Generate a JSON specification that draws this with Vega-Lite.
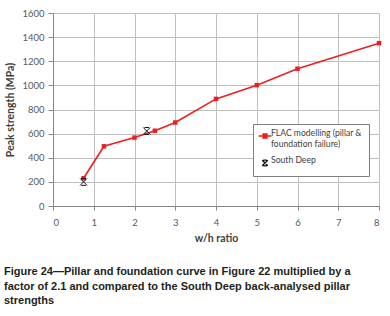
{
  "$schema": "https://vega.github.io/schema/vega-lite/v6.json",
  "width": 326,
  "height": 193,
  "autosize": {"type": "none"},
  "padding": {"left": 53, "top": 13, "right": 11, "bottom": 110},
  "background": "white",
  "config": {
    "view": {"stroke": null},
    "font": "Lato",
    "axis": {
      "gridColor": "#bfbfbf",
      "domainColor": "#868686",
      "tickColor": "#868686",
      "labelColor": "#595959",
      "labelFontSize": 9.5,
      "titleFontSize": 10.5,
      "titleFontWeight": "bold",
      "titleColor": "#404040"
    },
    "legend": {
      "orient": "none",
      "legendX": 200,
      "legendY": 111,
      "strokeColor": "#7f7f7f",
      "fillColor": "white",
      "padding": 7,
      "labelFont": "Lato",
      "labelFontSize": 8.6,
      "labelColor": "#404040",
      "labelBaseline": "alphabetic",
      "symbolSize": 64,
      "symbolStrokeWidth": 1.3,
      "rowPadding": 7,
      "labelOffset": 1
    }
  },
  "title": {
    "text": [
      "Figure 24\u2014Pillar and foundation curve in Figure 22 multiplied by a",
      "factor of 2.1 and compared to the South Deep back-analysed pillar",
      "strengths"
    ],
    "orient": "bottom",
    "anchor": "start",
    "frame": "group",
    "dx": -49,
    "offset": 22,
    "font": "Liberation Sans",
    "fontSize": 11,
    "fontWeight": "bold",
    "color": "#231f20",
    "lineHeight": 14.5
  },
  "datasets": {
    "flac": [
      {"wh": 0.75, "strength": 230, "series": "FLAC modelling (pillar & foundation failure)"},
      {"wh": 1.25, "strength": 495, "series": "FLAC modelling (pillar & foundation failure)"},
      {"wh": 2, "strength": 567, "series": "FLAC modelling (pillar & foundation failure)"},
      {"wh": 2.5, "strength": 624, "series": "FLAC modelling (pillar & foundation failure)"},
      {"wh": 3, "strength": 692, "series": "FLAC modelling (pillar & foundation failure)"},
      {"wh": 4, "strength": 888, "series": "FLAC modelling (pillar & foundation failure)"},
      {"wh": 5, "strength": 1002, "series": "FLAC modelling (pillar & foundation failure)"},
      {"wh": 6, "strength": 1138, "series": "FLAC modelling (pillar & foundation failure)"},
      {"wh": 8, "strength": 1350, "series": "FLAC modelling (pillar & foundation failure)"}
    ],
    "south": [
      {"wh": 0.75, "strength": 200, "series": "South Deep"},
      {"wh": 2.3, "strength": 622, "series": "South Deep"}
    ]
  },
  "encoding": {
    "x": {
      "field": "wh",
      "type": "quantitative",
      "scale": {"domain": [0, 8], "nice": false},
      "axis": {"title": "w/h ratio", "values": [0, 1, 2, 3, 4, 5, 6, 7, 8], "tickSize": 4, "labelPadding": 7, "titlePadding": 7}
    },
    "y": {
      "field": "strength",
      "type": "quantitative",
      "scale": {"domain": [0, 1600], "nice": false},
      "axis": {"title": "Peak strength (MPa)", "format": "d", "values": [0, 200, 400, 600, 800, 1000, 1200, 1400, 1600], "tickSize": 5, "labelPadding": 4, "titlePadding": 6}
    }
  },
  "layer": [
    {
      "data": {"name": "flac"},
      "mark": {"type": "line", "color": "#f01e1e", "strokeWidth": 1.6}
    },
    {
      "data": {"name": "flac"},
      "mark": {"type": "point", "shape": "square", "filled": true, "color": "#f01e1e", "size": 20, "opacity": 1}
    },
    {
      "data": {"name": "south"},
      "mark": {"type": "point", "filled": true, "size": 100, "strokeWidth": 1, "opacity": 1},
      "encoding": {
        "shape": {
          "field": "series",
          "type": "nominal",
          "scale": {
            "domain": ["FLAC modelling (pillar & foundation failure)", "South Deep"],
            "range": ["M-1.6,0H1.6M-0.5,-0.5H0.5V0.5H-0.5Z", "M-0.7,-0.7L0.7,0.7M0.7,-0.7L-0.7,0.7M-0.45,-0.7H0.45M-0.45,0.7H0.45"]
          },
          "legend": {
            "title": null,
            "labelExpr": "datum.label == 'South Deep' ? 'South Deep' : ['FLAC modelling (pillar &', 'foundation failure)']",
            "encode": {"labels": {"update": {"dy": {"value": 3}}}}
          }
        },
        "fill": {
          "field": "series",
          "type": "nominal",
          "scale": {
            "domain": ["FLAC modelling (pillar & foundation failure)", "South Deep"],
            "range": ["#f01e1e", "transparent"]
          },
          "legend": {
            "title": null,
            "labelExpr": "datum.label == 'South Deep' ? 'South Deep' : ['FLAC modelling (pillar &', 'foundation failure)']",
            "encode": {"labels": {"update": {"dy": {"value": 3}}}}
          }
        },
        "stroke": {
          "field": "series",
          "type": "nominal",
          "scale": {
            "domain": ["FLAC modelling (pillar & foundation failure)", "South Deep"],
            "range": ["#f01e1e", "#111111"]
          },
          "legend": {
            "title": null,
            "labelExpr": "datum.label == 'South Deep' ? 'South Deep' : ['FLAC modelling (pillar &', 'foundation failure)']",
            "encode": {"labels": {"update": {"dy": {"value": 3}}}}
          }
        }
      }
    }
  ]
}
